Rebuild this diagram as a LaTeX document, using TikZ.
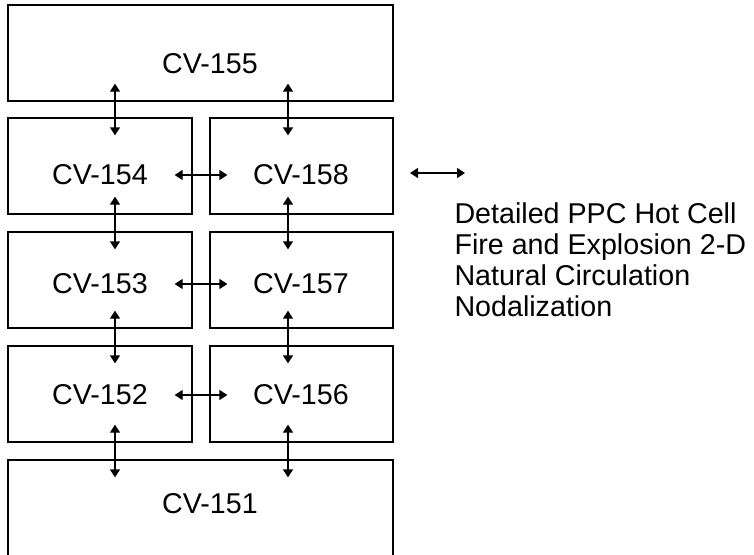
\documentclass[tikz,border=0pt]{standalone}
\usepackage{fontspec}
\setmainfont{Liberation Sans}
\usetikzlibrary{arrows.meta}
\tikzset{
	cvbox/.style={draw, line width=2pt, minimum height=72pt, inner sep=0pt},
	cvtext/.style={font=\fontsize{21.5}{23.25}\selectfont, inner sep=0pt},
	tip/.style={{Triangle[length=6pt,width=7.5pt]}-{Triangle[length=6pt,width=7.5pt]}, line width=1pt},
	link/.style={tip, shorten <=-14pt, shorten >=-14pt}}
\tikzset{every picture/.style={line width=0.75pt}}

\begin{document}
\begin{tikzpicture}[x=0.75pt,y=0.75pt,yscale=-1,xscale=1]
	\useasboundingbox (0,0) rectangle (754,554);
	\clip (0,0) rectangle (754,554);

	%Shape: Rectangle [id:cv155] 
	\node [cvbox, minimum width=288.75pt] (c155) at (200.5,53) {};
	%Shape: Rectangle [id:cv154] 
	\node [cvbox, minimum width=138pt] (c154) at (100,166) {};
	%Shape: Rectangle [id:cv158] 
	\node [cvbox, minimum width=137.25pt] (c158) at (301.5,166) {};
	%Shape: Rectangle [id:cv153] 
	\node [cvbox, minimum width=138pt] (c153) at (100,280) {};
	%Shape: Rectangle [id:cv157] 
	\node [cvbox, minimum width=137.25pt] (c157) at (301.5,280) {};
	%Shape: Rectangle [id:cv152] 
	\node [cvbox, minimum width=138pt] (c152) at (100,394) {};
	%Shape: Rectangle [id:cv156] 
	\node [cvbox, minimum width=137.25pt] (c156) at (301.5,394) {};
	%Shape: Rectangle [id:cv151] 
	\node [cvbox, minimum width=288.75pt, minimum height=82.5pt] (c151) at (200.5,515) {};

	% Text Node
	\node [cvtext] (t155) at (210,64) {CV-155};
	% Text Node
	\node [cvtext] (t154) at (100,175) {CV-154};
	% Text Node
	\node [cvtext] (t158) at (301,175) {CV-158};
	% Text Node
	\node [cvtext] (t153) at (100,284) {CV-153};
	% Text Node
	\node [cvtext] (t157) at (301,284) {CV-157};
	% Text Node
	\node [cvtext] (t152) at (100,395) {CV-152};
	% Text Node
	\node [cvtext] (t156) at (301,395) {CV-156};
	% Text Node
	\node [cvtext] (t151) at (210,504) {CV-151};

	%Straight Lines [vertical links] 
	\coordinate (lx) at (115,0);
	\coordinate (rx) at (288,0);
	\draw [link] (c155.south -| lx) -- (c154.north -| lx);
	\draw [link] (c155.south -| rx) -- (c158.north -| rx);
	\draw [link] (c154.south -| lx) -- (c153.north -| lx);
	\draw [link] (c158.south -| rx) -- (c157.north -| rx);
	\draw [link] (c153.south -| lx) -- (c152.north -| lx);
	\draw [link] (c157.south -| rx) -- (c156.north -| rx);
	\draw [link] (c152.south -| lx) -- (c151.north -| lx);
	\draw [link] (c156.south -| rx) -- (c151.north -| rx);
	%Straight Lines [horizontal links] 
	\draw [link] (c154.east |- t154) -- (c158.west |- t158);
	\draw [link] (c153.east |- t153) -- (c157.west |- t157);
	\draw [link] (c152.east |- t152) -- (c156.west |- t156);

	%Straight Lines [key] 
	\coordinate (k1) at (410,173);
	\coordinate (k2) at (465,173);
	\draw [tip] (k1) -- (k2);
	% Text Node
	\node [cvtext, anchor=north west, align=left] (note) at (454,202) {Detailed PPC Hot Cell\\Fire and Explosion 2-D\\Natural Circulation\\Nodalization};

\end{tikzpicture}
\end{document}
